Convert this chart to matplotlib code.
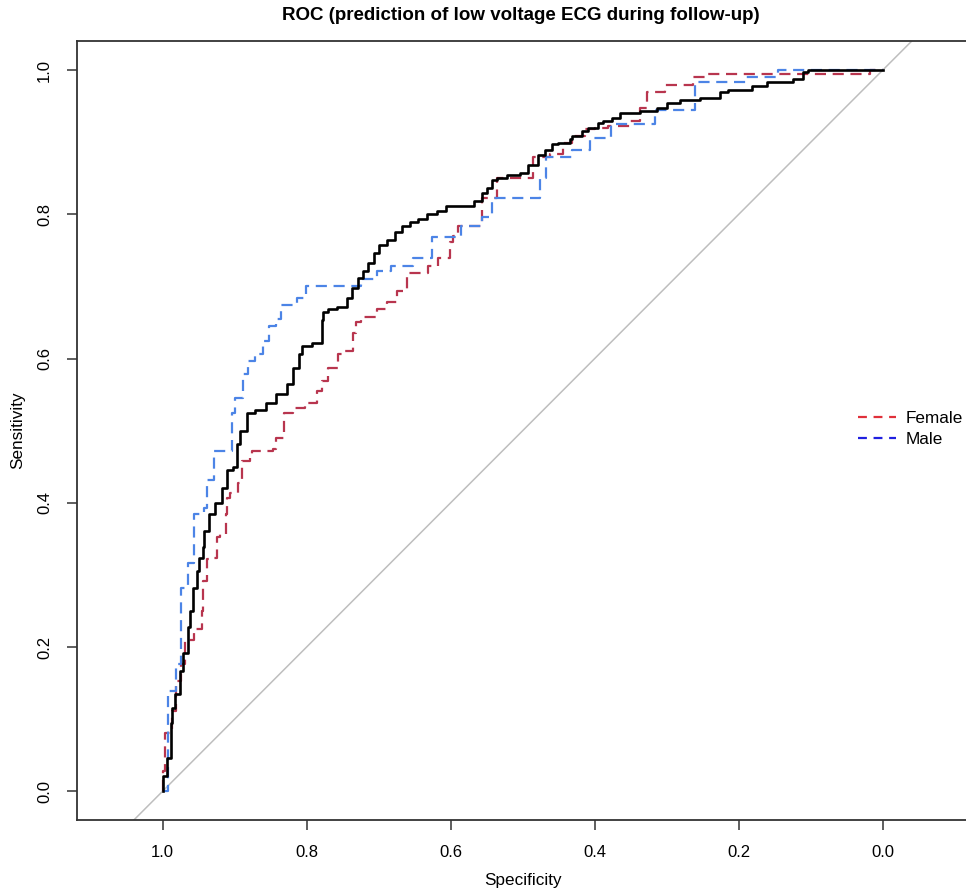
import matplotlib
matplotlib.use("Agg")
import matplotlib.pyplot as plt
from matplotlib.lines import Line2D

plt.rcParams['font.family'] = ['Liberation Sans', 'DejaVu Sans']

# ROC step curves: each point is the low-specificity end of a plateau
# (sensitivity rises at the previous specificity, then runs flat to this one)
all_spec = [1.000, 0.994, 0.989, 0.9875, 0.983, 0.976, 0.972, 0.965, 0.9625, 0.958,
            0.953, 0.949, 0.944, 0.942, 0.935, 0.928, 0.918, 0.910, 0.903, 0.897,
            0.893, 0.883, 0.872, 0.856, 0.842, 0.828, 0.819, 0.810, 0.806, 0.793,
            0.779, 0.778, 0.771, 0.758, 0.744, 0.7375, 0.729, 0.722, 0.715, 0.706,
            0.699, 0.689, 0.678, 0.668, 0.657, 0.646, 0.633, 0.619, 0.606, 0.567,
            0.557, 0.549, 0.542, 0.535, 0.522, 0.504, 0.493, 0.479, 0.469, 0.460,
            0.451, 0.435, 0.431, 0.418, 0.410, 0.396, 0.389, 0.376, 0.365, 0.354,
            0.337, 0.314, 0.300, 0.282, 0.254, 0.240, 0.226, 0.215, 0.181, 0.161,
            0.125, 0.111, 0.104, 0.000]
all_sens = [0.000, 0.0215, 0.0465, 0.094, 0.116, 0.135, 0.167, 0.192, 0.227, 0.250,
            0.282, 0.306, 0.324, 0.338, 0.361, 0.385, 0.399, 0.420, 0.445, 0.449,
            0.482, 0.500, 0.524, 0.528, 0.539, 0.551, 0.565, 0.587, 0.607, 0.618,
            0.622, 0.653, 0.664, 0.669, 0.671, 0.684, 0.698, 0.712, 0.722, 0.732,
            0.747, 0.757, 0.764, 0.775, 0.784, 0.789, 0.794, 0.801, 0.805, 0.812,
            0.819, 0.829, 0.837, 0.847, 0.851, 0.854, 0.858, 0.868, 0.882, 0.889,
            0.898, 0.899, 0.905, 0.909, 0.916, 0.920, 0.926, 0.930, 0.934, 0.940,
            0.941, 0.944, 0.948, 0.955, 0.958, 0.961, 0.962, 0.970, 0.972, 0.978,
            0.983, 0.988, 0.997, 1.000]

female_spec = [1.000, 0.997, 0.9875, 0.981, 0.974, 0.969, 0.956, 0.946, 0.944, 0.939,
               0.935, 0.925, 0.921, 0.9125, 0.911, 0.907, 0.896, 0.890, 0.879, 0.876,
               0.847, 0.842, 0.831, 0.819, 0.803, 0.785, 0.779, 0.771, 0.757, 0.751,
               0.736, 0.731, 0.724, 0.703, 0.689, 0.674, 0.660, 0.632, 0.618, 0.601,
               0.597, 0.590, 0.557, 0.536, 0.486, 0.4625, 0.444, 0.431, 0.414, 0.400,
               0.382, 0.351, 0.337, 0.328, 0.303, 0.264, 0.247, 0.018, 0.000]
female_sens = [0.000, 0.028, 0.080, 0.111, 0.153, 0.177, 0.209, 0.225, 0.250, 0.292,
               0.322, 0.324, 0.352, 0.357, 0.385, 0.407, 0.413, 0.428, 0.458, 0.468,
               0.472, 0.475, 0.490, 0.524, 0.531, 0.539, 0.555, 0.569, 0.587, 0.607,
               0.611, 0.635, 0.650, 0.657, 0.669, 0.678, 0.694, 0.718, 0.729, 0.740,
               0.761, 0.770, 0.784, 0.822, 0.850, 0.879, 0.884, 0.899, 0.909, 0.919,
               0.920, 0.923, 0.930, 0.947, 0.970, 0.979, 0.990, 0.995, 1.000]

male_spec = [1.000, 0.993, 0.982, 0.974, 0.965, 0.956, 0.942, 0.939, 0.929, 0.904,
             0.899, 0.888, 0.882, 0.872, 0.861, 0.853, 0.843, 0.835, 0.814, 0.801,
             0.724, 0.703, 0.683, 0.653, 0.626, 0.585, 0.557, 0.542, 0.476, 0.467,
             0.431, 0.406, 0.378, 0.316, 0.261, 0.190, 0.146, 0.000]
male_sens = [0.000, 0.000, 0.139, 0.177, 0.282, 0.317, 0.385, 0.393, 0.431, 0.472,
             0.524, 0.545, 0.579, 0.597, 0.607, 0.625, 0.645, 0.655, 0.674, 0.684,
             0.701, 0.711, 0.722, 0.729, 0.739, 0.768, 0.784, 0.796, 0.823, 0.851,
             0.879, 0.889, 0.906, 0.925, 0.945, 0.983, 0.990, 1.000]

x_ticks = [1.0, 0.8, 0.6, 0.4, 0.2, 0.0]
y_ticks = [0.0, 0.2, 0.4, 0.6, 0.8, 1.0]

fig = plt.figure(figsize=(9.66, 8.91), dpi=100)
ax = fig.add_axes([77 / 966, 71 / 891, 891.4 / 966, 778.7 / 891])

ax.axline((1.0, 0.0), (0.0, 1.0), color='#BEBEBE', lw=1.1, zorder=1)

ax.plot(female_spec, female_sens, drawstyle='steps-pre', color='#B8354E',
        lw=1.6, dashes=(5, 3), zorder=2)
ax.plot(male_spec, male_sens, drawstyle='steps-pre', color='#4C84E6',
        lw=1.6, dashes=(5, 3), zorder=2)
ax.plot(all_spec, all_sens, drawstyle='steps-pre', color='black',
        lw=1.9, zorder=3)

ax.set_xlim(1.119, -0.119)
ax.set_ylim(-0.04, 1.04)
ax.set_xticks(x_ticks)
ax.set_xticklabels([f'{v:.1f}' for v in x_ticks])
ax.set_yticks(y_ticks)
ax.set_yticklabels([f'{v:.1f}' for v in y_ticks], rotation=90, va='center')
ax.tick_params(length=7, width=1.1, color='#333333', labelsize=12,
               labelcolor='black', pad=11)

for name, sp in ax.spines.items():
    sp.set_linewidth(1.3)
    sp.set_color('#333333')
ax.spines['right'].set_visible(False)

fig.text(521 / 966, 1 - 16 / 891, 'ROC (prediction of low voltage ECG during follow-up)',
         ha='center', va='center', fontsize=13.5, fontweight='bold')
fig.text(523 / 966, 1 - 880 / 891, 'Specificity', ha='center', va='center', fontsize=12.3)
fig.text(18 / 966, 1 - 430 / 891, 'Sensitivity', ha='center', va='center',
         fontsize=12.3, rotation=90)

handles = [Line2D([], [], color='#E0303A', lw=1.6, dashes=(4, 3)),
           Line2D([], [], color='#2020E0', lw=1.6, dashes=(4, 3))]
fig.legend(handles, ['Female', 'Male'], loc='center left',
           bbox_to_anchor=(858 / 966, 1 - 429 / 891), frameon=False,
           fontsize=12.3, handlelength=2.2, handletextpad=0.6, labelspacing=0.4,
           borderpad=0, borderaxespad=0)

fig.savefig('out.png', dpi=100)
